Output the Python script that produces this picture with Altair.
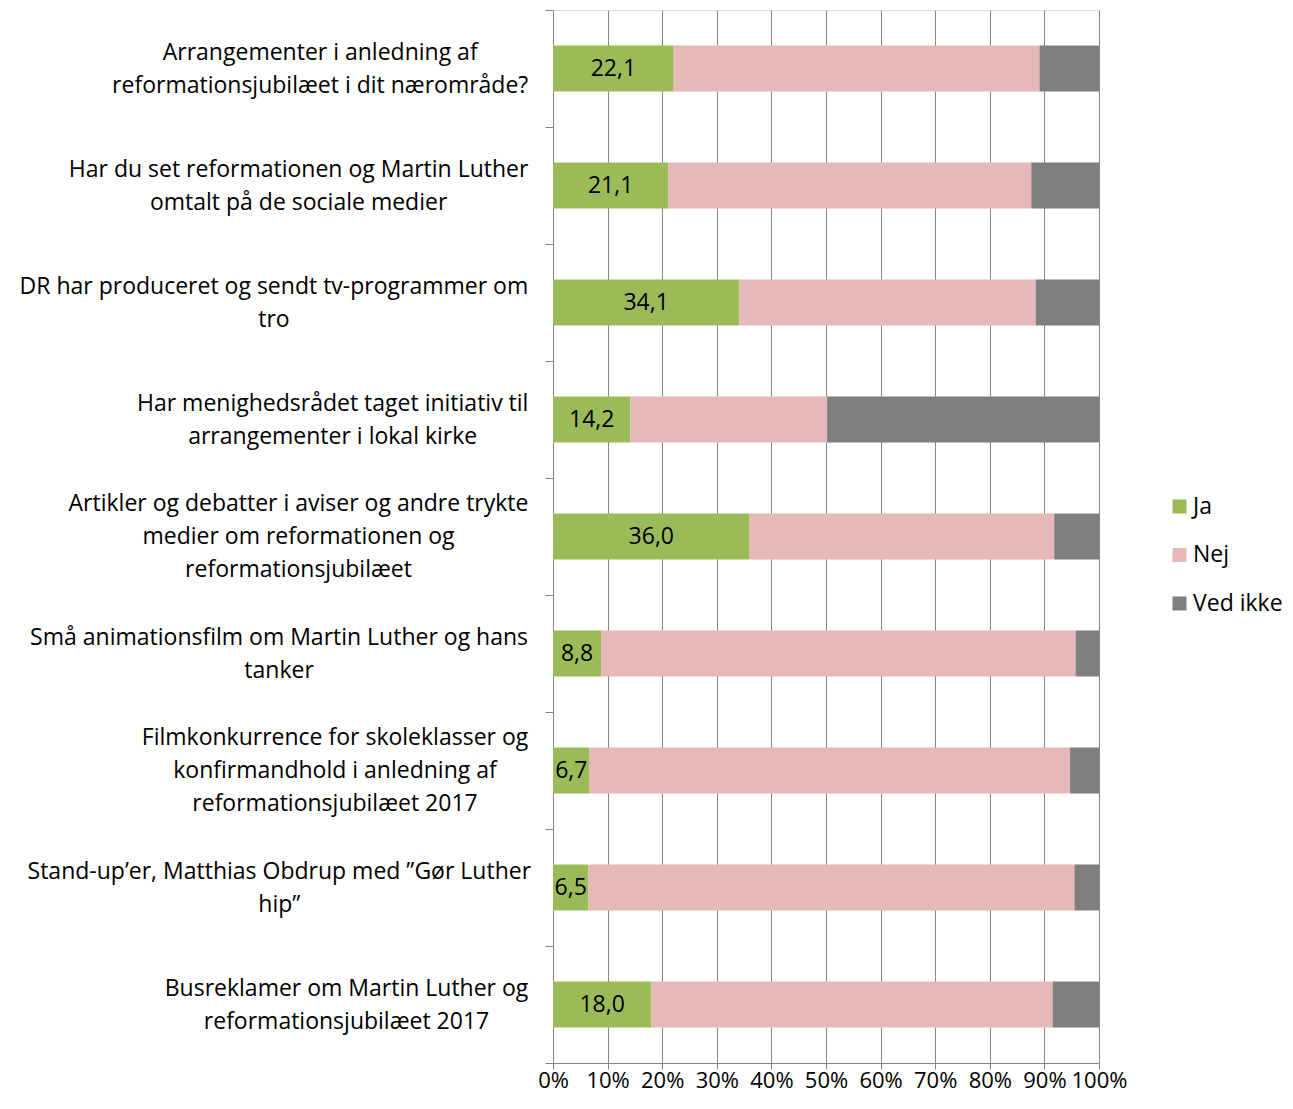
import json
import altair as alt
import pandas as pd

category_lines = [
    ["Arrangementer i anledning af", "reformationsjubilæet i dit nærområde?"],
    ["Har du set reformationen og Martin Luther", "omtalt på de sociale medier"],
    ["DR har produceret og sendt tv-programmer om", "tro"],
    ["Har menighedsrådet taget initiativ til", "arrangementer i lokal kirke"],
    ["Artikler og debatter i aviser og andre trykte", "medier om reformationen og", "reformationsjubilæet"],
    ["Små animationsfilm om Martin Luther og hans", "tanker"],
    ["Filmkonkurrence for skoleklasser og", "konfirmandhold i anledning af", "reformationsjubilæet 2017"],
    ["Stand-up’er, Matthias Obdrup med ”Gør Luther", "hip”"],
    ["Busreklamer om Martin Luther og", "reformationsjubilæet 2017"],
]
ja = [22.1, 21.1, 34.1, 14.2, 36.0, 8.8, 6.7, 6.5, 18.0]
nej = [67.0, 66.5, 54.3, 36.0, 55.8, 86.9, 88.0, 89.0, 73.5]
ved_ikke = [10.9, 12.4, 11.6, 49.8, 8.2, 4.3, 5.3, 4.5, 8.5]
series = ["Ja", "Nej", "Ved ikke"]
colors = ["#9BBB59", "#E6B9B8", "#7F7F7F"]
x_ticks = [0, 10, 20, 30, 40, 50, 60, 70, 80, 90, 100]

categories = ["|".join(lines) for lines in category_lines]

FONT = "Open Sans"
LABEL_FS = 23
AX = "#868686"
LH = 33

# approximate Open Sans advance widths (em): each label block is centred
# line by line and right-aligned as a block against the axis
_W = {
    " ": .26, ",": .244, "-": .322, ".": .266, "?": .429, "’": .164, "”": .32,
    "0": .572, "1": .572, "2": .572, "7": .572,
    "A": .633, "B": .648, "D": .729, "F": .516, "H": .738, "L": .519, "M": .903,
    "R": .618, "S": .549, "O": .779,
    "a": .556, "b": .613, "c": .476, "d": .613, "e": .561, "f": .339, "g": .548,
    "h": .614, "i": .253, "j": .253, "k": .525, "l": .253, "m": .930, "n": .614,
    "o": .604, "p": .613, "q": .613, "r": .408, "s": .477, "t": .353, "u": .614,
    "v": .501, "w": .778, "x": .524, "y": .502, "z": .477,
    "æ": .866, "ø": .604, "å": .556,
}


def _width(s):
    return sum(_W.get(ch, .55) for ch in s)


half_widths = [round(max(_width(l) for l in lines) * LABEL_FS / 2, 1) for lines in category_lines]
pad_expr = (
    f"17 + {json.dumps(half_widths)}"
    f"[indexof({json.dumps(categories, ensure_ascii=False)}, datum.label)]"
)

rows = []
for i, c in enumerate(categories):
    for k, (s, v) in enumerate(zip(series, [ja[i], nej[i], ved_ikke[i]])):
        rows.append({"cat": c, "series": s, "value": v, "ord": k})
df = pd.DataFrame(rows)

y_enc = alt.Y(
    "cat:N",
    sort=categories,
    title=None,
    scale=alt.Scale(paddingInner=0, paddingOuter=0),
    axis=alt.Axis(
        labelExpr="split(datum.label, '|')",
        labelFontSize=LABEL_FS,
        labelLineHeight=LH,
        labelColor="#000000",
        labelFont=FONT,
        labelAlign="center",
        labelPadding=alt.ExprRef(pad_expr),
        labelLimit=700,
        labelOffset=alt.ExprRef(f"-(length(split(datum.label, '|')) - 1) * {LH / 2}"),
        tickBand="extent",
        tickSize=8,
        tickColor=AX,
        domainColor=AX,
        grid=False,
    ),
)

x_scale = alt.Scale(domain=[0, 100], nice=False, zero=True)

bars = alt.Chart(df).mark_bar(size=46).encode(
    y=y_enc,
    x=alt.X(
        "value:Q",
        stack="zero",
        scale=x_scale,
        title=None,
        axis=alt.Axis(
            values=x_ticks,
            labelExpr="datum.value + '%'",
            labelFontSize=22,
            labelFont=FONT,
            labelColor="#000000",
            labelPadding=1,
            labelOverlap=False,
            labelFlush=False,
            tickSize=6,
            tickColor=AX,
            domainColor=AX,
            grid=True,
            gridColor=AX,
            gridWidth=1,
        ),
    ),
    color=alt.Color(
        "series:N",
        scale=alt.Scale(domain=series, range=colors),
        legend=alt.Legend(
            title=None,
            orient="none",
            legendX=615,
            legendY=485,
            symbolType="square",
            symbolSize=196,
            symbolStrokeWidth=0,
            labelFontSize=23,
            labelFont=FONT,
            labelColor="#000000",
            labelOffset=2,
            rowPadding=24.5,
            padding=0,
        ),
    ),
    order=alt.Order("ord:Q"),
)

texts = (
    alt.Chart(df)
    .transform_filter(alt.datum.series == "Ja")
    .transform_calculate(
        mid="datum.value / 2",
        lab="replace(format(datum.value, '.1f'), '.', ',')",
    )
    .mark_text(fontSize=23, font=FONT, color="#000000", baseline="middle", align="center")
    .encode(y=alt.Y("cat:N", sort=categories), x=alt.X("mid:Q", scale=x_scale), text="lab:N")
)

chart = (
    alt.layer(bars, texts)
    .properties(
        width=546,
        height=1053,
        autosize=alt.AutoSizeParams(type="none"),
        padding={"left": 545, "top": 2, "right": 186, "bottom": 32},
    )
    .configure_view(stroke=None)
    .configure(font=FONT)
)

chart.save("out.html", embed_options={"renderer": "svg", "actions": False})
